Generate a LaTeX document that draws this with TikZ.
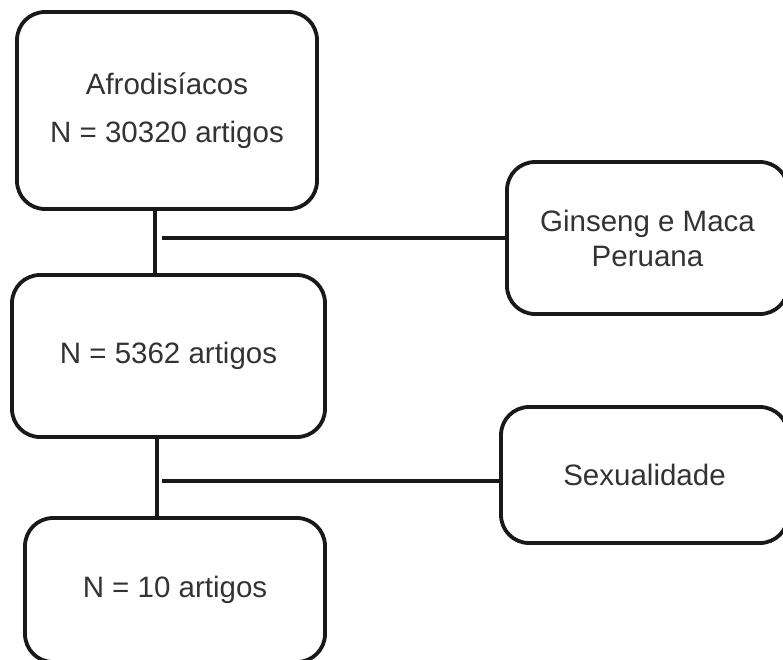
\documentclass[tikz,border=0pt]{standalone}
\usepackage{fontspec}
\setmainfont{Liberation Sans}
\begin{document}
\begin{tikzpicture}[x=1pt,y=-1pt,
  box/.style={draw=black!90, line width=3.8pt, rounded corners=28pt, align=center,
    text=black!80, font=\fontsize{29.5}{48}\selectfont, inner sep=0pt},
  conn/.style={draw=black!90, line width=3.8pt}]
\useasboundingbox (0,0) rectangle (783,659);
\clip (0,0) rectangle (783,659);
\node[box, minimum width=300pt, minimum height=197pt] (b1) at (167,110.5) {Afrodisíacos\\N = 30320 artigos};
\node[box, minimum width=281pt, minimum height=152pt, font=\fontsize{29.5}{35}\selectfont] (b2) at (647.5,238) {Ginseng e Maca\\Peruana};
\node[box, minimum width=313pt, minimum height=162pt] (b3) at (168.5,356) {N = 5362 artigos};
\node[box, minimum width=287pt, minimum height=136pt] (b4) at (644.5,475) {Sexualidade};
\node[box, minimum width=300pt, minimum height=144pt] (b5) at (175,590) {N = 10 artigos};
\coordinate (v1) at (155,0);
\coordinate (h1) at (162,238);
\coordinate (v2) at (157,0);
\coordinate (h2) at (162,481);
\draw[conn] (b1.south -| v1) -- (b3.north -| v1);
\draw[conn] (h1) -- (h1 -| b2.west);
\draw[conn] (b3.south -| v2) -- (b5.north -| v2);
\draw[conn] (h2) -- (h2 -| b4.west);
\end{tikzpicture}
\end{document}
